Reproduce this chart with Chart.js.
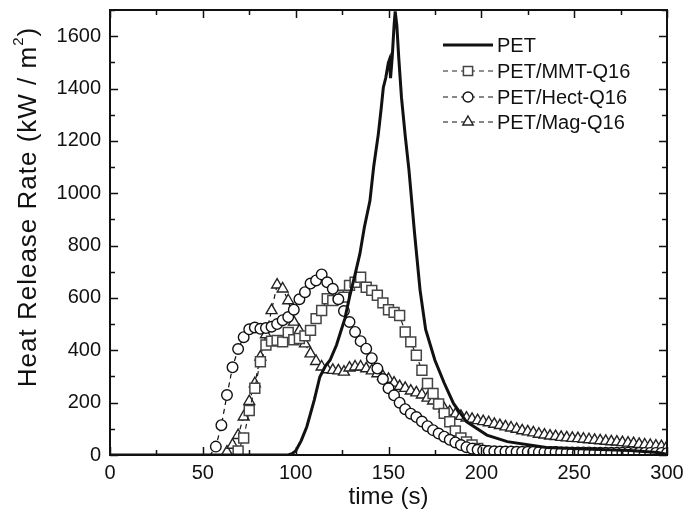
<!DOCTYPE html>
<html>
<head>
<meta charset="utf-8">
<script src="https://cdn.jsdelivr.net/npm/chart.js@4.4.0/dist/chart.umd.min.js"></script>
<style>
  html, body { margin: 0; padding: 0; background: #fff; }
  #wrap { width: 684px; height: 521px; }
</style>
</head>
<body>
<div id="wrap"><canvas id="myChart" width="684" height="521"></canvas></div>
<script>
// time grid (s) shared by the three nanocomposite curves
const time = [
  0, 3, 6, 9, 12, 15, 18, 21, 24, 27, 30, 33, 36, 39, 42, 45, 48, 51, 54,
  57, 60, 63, 66, 69, 72, 75, 78, 81, 84, 87, 90, 93, 96, 99, 102, 105, 108,
  111, 114, 117, 120, 123, 126, 129, 132, 135, 138, 141, 144, 147, 150, 153,
  156, 159, 162, 165, 168, 171, 174, 177, 180, 183, 186, 189, 192, 195, 198,
  201, 204, 207, 210, 213, 216, 219, 222, 225, 228, 231, 234, 237, 240, 243,
  246, 249, 252, 255, 258, 261, 264, 267, 270, 273, 276, 279, 282, 285, 288,
  291, 294, 297, 300
];

// neat PET was sampled on its own (finer near the peak)
const petTime = [
  0, 96, 98, 100, 103, 106, 110, 113, 116, 118.5, 122, 124, 126.5, 129, 132,
  134.6, 137, 140, 142, 144.5, 146, 147.2, 148.5, 149.9, 150.5, 151.1, 152,
  153, 153.6, 154.5, 155.5, 157, 159, 161, 164, 167, 170, 175, 180, 185, 192,
  203, 214, 235, 260, 280, 295, 300
];
const pet = [
  0, 0, 5, 15, 55, 108, 210, 298, 340, 362, 420, 465, 521, 603, 690,
  769, 870, 971, 1100, 1225, 1320, 1403, 1440, 1498, 1510, 1440, 1520,
  1640, 1695, 1640, 1520, 1365, 1220, 1090, 850, 630, 480, 362, 275, 197, 127,
  76, 51, 29, 22, 17, 10, 3
];

const mmt = [
  0, 0, 0, 0, 0, 0, 0, 0, 0, 0, 0, 0, 0, 0, 0, 0, 0, 0, 0, 0, 0, 0, 0,
  15, 65, 170, 255, 356, 420, 435, 438, 432, 468,
  440, 445, 455, 476, 521, 552, 597, 590, 610, 603,
  648, 660, 679, 641, 629, 610, 581, 555, 545, 533,
  470, 432, 381, 324, 273, 235, 195, 159, 127, 92,
  65, 50, 38, 25, 15, 10,
  8, 7, 7, 6, 6, 6, 6, 5, 5, 5, 5, 5, 5, 5, 5, 4, 4, 4, 4, 4,
  4, 4, 4, 4, 4, 4, 4, 3, 3, 3, 3, 3
];

const hect = [
  0, 0, 0, 0, 0, 0, 0, 0, 0, 0, 0, 0, 0, 0, 0, 0, 0, 0, 0,
  32, 114, 229, 335, 405, 450, 480, 487, 482, 485,
  490, 500, 515, 527, 555, 595, 622, 655, 667, 690,
  660, 635, 595, 550, 508, 470, 435, 406, 370, 330,
  290, 255, 228, 200, 175, 158, 145, 128, 110, 95,
  82, 70, 58, 48, 38, 30, 24, 20, 17, 15,
  14, 13, 13, 13, 12, 12, 12, 12, 11, 11,
  11, 11, 10, 10, 10, 10, 10, 10, 9, 9,
  9, 9, 9, 9, 9, 8, 8, 8, 8, 8,
  8, 7
];

const mag = [
  0, 0, 0, 0, 0, 0, 0, 0, 0, 0, 0, 0, 0, 0, 0, 0, 0, 0, 0, 0, 0,
  12, 38, 75, 146, 205, 273, 375, 460, 552, 650,
  635, 590, 508, 475, 425, 387, 358, 337, 326, 324,
  322, 317, 333, 337, 337, 330, 322, 311, 300, 290,
  275, 262, 255, 245, 238, 230, 218, 207, 192, 177,
  165, 155, 148, 142, 137, 132, 128, 124, 118, 113,
  108, 104, 99, 93, 89, 85, 80, 77, 73, 71,
  68, 66, 64, 63, 61, 59, 57, 55, 53, 51,
  50, 48, 46, 44, 41, 39, 37, 35, 33, 32
];

const names = ['PET', 'PET/MMT-Q16', 'PET/Hect-Q16', 'PET/Mag-Q16'];
const xTicks = [0, 50, 100, 150, 200, 250, 300];
const yTicks = [0, 200, 400, 600, 800, 1000, 1200, 1400, 1600];

const pts = (xs, ys) => xs.map((t, i) => ({ x: t, y: ys[i] }));
const hideZero = r => c => (c.raw && c.raw.y === 0) ? 0 : r;

const FONT = "'Liberation Sans', Arial, sans-serif";

const data = {
  datasets: [
    {
      label: names[0], data: pts(petTime, pet),
      borderColor: '#111', borderWidth: 3, pointRadius: 0, order: 0
    },
    {
      label: names[1], data: pts(time, mmt),
      borderColor: '#222', borderWidth: 1.2, borderDash: [5, 4],
      pointStyle: 'rect', pointRadius: hideZero(7),
      pointBackgroundColor: '#fff', pointBorderColor: '#444', pointBorderWidth: 1.5,
      order: 2
    },
    {
      label: names[2], data: pts(time, hect),
      borderColor: '#111', borderWidth: 1.2, borderDash: [5, 4],
      pointStyle: 'circle', pointRadius: hideZero(5.3),
      pointBackgroundColor: '#fff', pointBorderColor: '#111', pointBorderWidth: 1.4,
      order: 1
    },
    {
      label: names[3], data: pts(time, mag),
      borderColor: '#111', borderWidth: 1.2, borderDash: [5, 4],
      pointStyle: 'triangle', pointRadius: hideZero(6.3),
      pointBackgroundColor: '#fff', pointBorderColor: '#222', pointBorderWidth: 1.4,
      order: 3
    }
  ]
};

function marker(ctx, style, x, y, r) {
  ctx.beginPath();
  if (style === 'circle') {
    ctx.arc(x, y, r, 0, Math.PI * 2);
  } else if (style === 'rect') {
    const s = r * Math.SQRT1_2;
    ctx.rect(x - s, y - s, 2 * s, 2 * s);
  } else if (style === 'triangle') {
    let a = 0;
    ctx.moveTo(x + Math.sin(a) * r, y - Math.cos(a) * r);
    a += Math.PI * 2 / 3;
    ctx.lineTo(x + Math.sin(a) * r, y - Math.cos(a) * r);
    a += Math.PI * 2 / 3;
    ctx.lineTo(x + Math.sin(a) * r, y - Math.cos(a) * r);
    ctx.closePath();
  }
  ctx.fill();
  ctx.stroke();
}

// box, inward ticks, legend and y title
const decor = {
  id: 'decor',
  afterDraw(chart) {
    const { ctx, chartArea: a, scales: { x, y } } = chart;
    ctx.save();
    ctx.strokeStyle = '#111';
    ctx.lineWidth = 1.5;
    ctx.beginPath();
    for (let v = 0; v <= 300; v += 25) {
      const px = Math.round(x.getPixelForValue(v)) + 0.5;
      const len = v % 50 === 0 ? 8 : 5;
      ctx.moveTo(px, a.bottom); ctx.lineTo(px, a.bottom - len);
      ctx.moveTo(px, a.top); ctx.lineTo(px, a.top + len);
    }
    for (let v = 0; v <= 1700; v += 100) {
      const py = Math.round(y.getPixelForValue(v)) + 0.5;
      const len = v % 200 === 0 ? 8 : 5;
      ctx.moveTo(a.left, py); ctx.lineTo(a.left + len, py);
      ctx.moveTo(a.right, py); ctx.lineTo(a.right - len, py);
    }
    ctx.stroke();
    ctx.lineWidth = 2;
    ctx.strokeRect(a.left, a.top, a.right - a.left, a.bottom - a.top);

    // legend
    const rows = [45, 71, 97, 122];
    ctx.font = '20px ' + FONT;
    ctx.textBaseline = 'middle';
    ctx.textAlign = 'left';
    chart.data.datasets.forEach((ds, i) => {
      const yy = rows[i];
      ctx.strokeStyle = ds.borderColor;
      ctx.lineWidth = ds.borderWidth;
      ctx.setLineDash(ds.borderDash || []);
      ctx.beginPath();
      ctx.moveTo(443, yy); ctx.lineTo(493, yy);
      ctx.stroke();
      ctx.setLineDash([]);
      if (ds.pointStyle) {
        ctx.fillStyle = '#fff';
        ctx.strokeStyle = ds.pointBorderColor;
        ctx.lineWidth = ds.pointBorderWidth;
        const r = ds.pointStyle === 'rect' ? 6.5 : ds.pointStyle === 'triangle' ? 6 : 5;
        marker(ctx, ds.pointStyle, 468, yy, r);
      }
      ctx.fillStyle = '#111';
      ctx.fillText(ds.label, 497, yy + 1);
    });

    // y axis title with superscript
    ctx.translate(29, 207);
    ctx.rotate(-Math.PI / 2);
    ctx.letterSpacing = '1px';
    const big = '26px ' + FONT, small = '15px ' + FONT;
    const p1 = 'Heat Release Rate (kW / m', p2 = '2', p3 = ')';
    ctx.font = big; const w1 = ctx.measureText(p1).width; const w3 = ctx.measureText(p3).width;
    ctx.font = small; const w2 = ctx.measureText(p2).width;
    let sx = -(w1 + w2 + w3) / 2;
    ctx.fillStyle = '#111';
    ctx.textBaseline = 'middle';
    ctx.font = big; ctx.fillText(p1, sx, 0); sx += w1;
    ctx.font = small; ctx.fillText(p2, sx, -10); sx += w2;
    ctx.font = big; ctx.fillText(p3, sx, 0);
    ctx.restore();
  }
};

const config = {
  type: 'line',
  data: data,
  options: {
    responsive: false,
    animation: false,
    events: [],
    parsing: false,
    layout: { padding: { left: 0, right: 17, top: 10, bottom: 0 } },
    plugins: { legend: { display: false }, tooltip: { enabled: false } },
    scales: {
      x: {
        type: 'linear', min: 0, max: 300,
        afterBuildTicks: s => { s.ticks = xTicks.map(v => ({ value: v })); },
        afterFit: s => { s.height = 66; s.paddingLeft = 0; s.paddingRight = 0; },
        grid: { display: false, drawTicks: false },
        border: { display: false },
        ticks: { color: '#111', font: { family: FONT, size: 20 }, padding: 6, maxRotation: 0,
                 callback: v => String(v) },
        title: { display: true, text: 'time (s)', color: '#111', font: { family: FONT, size: 24 }, padding: { top: 0, bottom: 9 } }
      },
      y: {
        type: 'linear', min: 0, max: 1700,
        afterBuildTicks: s => { s.ticks = yTicks.map(v => ({ value: v })); },
        afterFit: s => { s.width = 110; s.paddingTop = 0; s.paddingBottom = 0; },
        grid: { display: false, drawTicks: false },
        border: { display: false },
        ticks: { color: '#111', font: { family: FONT, size: 20 }, padding: 9,
                 callback: v => String(v) }
      }
    }
  },
  plugins: [decor]
};

const ctx = document.getElementById('myChart');
const myChart = new Chart(ctx, config);
</script>
</body>
</html>
